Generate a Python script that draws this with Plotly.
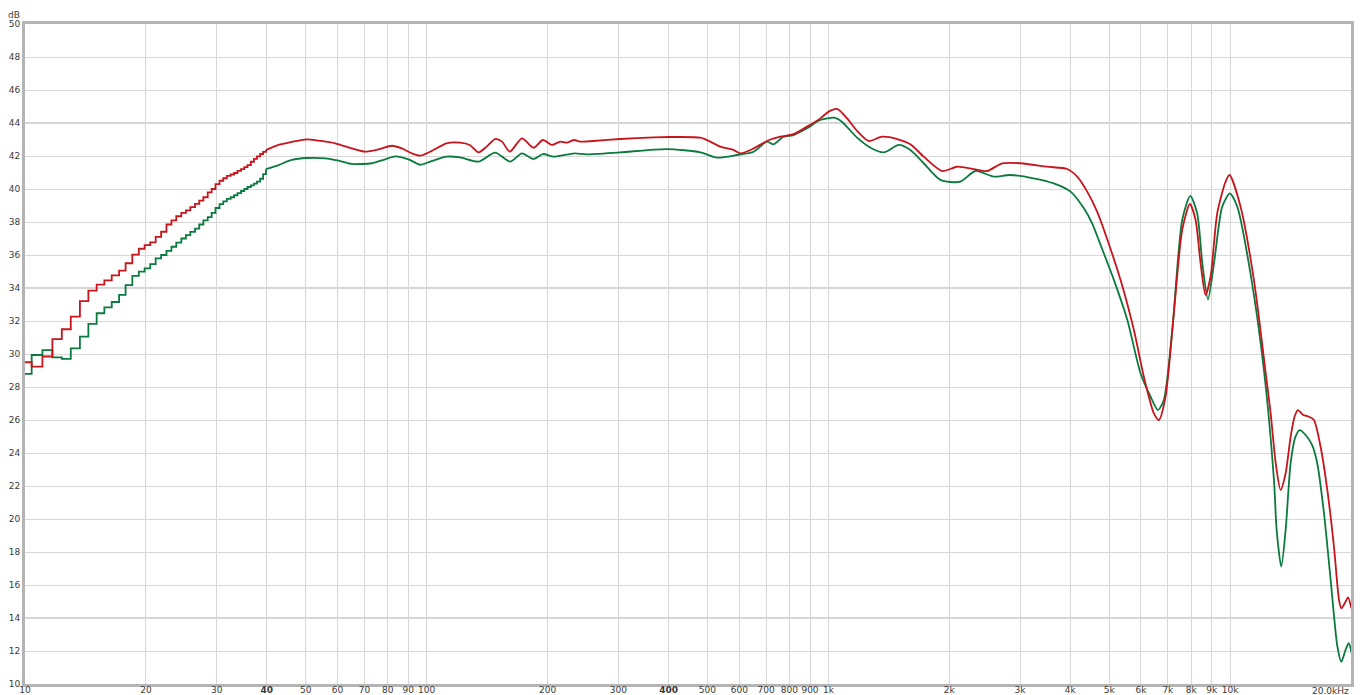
# =============================================================================
# IMPORTS
# =============================================================================

import numpy as np
import plotly.graph_objects as go


# =============================================================================
# DATOS
# =============================================================================

# Zona de graves: escalones de la resolución FFT (Hz)
FREQ_STEPS = [
    10.0, 10.39, 11.05, 11.7, 12.35, 13.0, 13.7, 14.38, 15.08, 15.76,
    16.44, 17.15, 17.8, 18.5, 19.2, 19.85, 20.5, 21.15, 21.82, 22.5,
    23.15, 23.8, 24.5, 25.15, 25.8, 26.5, 27.15, 27.8, 28.5, 29.15,
    29.8, 30.5, 31.15, 31.8, 32.5, 33.15, 33.8, 34.5, 35.15, 35.8,
    36.5, 37.15, 37.8, 38.5, 39.15, 39.8,
]

RED_STEPS = [
    29.5, 29.23, 29.85, 30.9, 31.5, 32.26, 33.2, 33.84, 34.2, 34.46,
    34.77, 35.05, 35.5, 36.02, 36.38, 36.6, 36.77, 37.1, 37.41, 37.85,
    38.1, 38.35, 38.55, 38.7, 38.9, 39.1, 39.3, 39.5, 39.8, 40.0,
    40.3, 40.5, 40.65, 40.8, 40.88, 40.97, 41.1, 41.2, 41.32, 41.45,
    41.65, 41.82, 41.98, 42.12, 42.25, 42.36,
]

GREEN_STEPS = [
    28.79, 29.94, 30.24, 29.8, 29.7, 30.34, 31.05, 31.82, 32.47, 32.83,
    33.15, 33.58, 34.18, 34.73, 34.99, 35.19, 35.45, 35.8, 36.0, 36.25,
    36.5, 36.75, 37.0, 37.2, 37.4, 37.6, 37.85, 38.1, 38.3, 38.55,
    38.85, 39.08, 39.25, 39.4, 39.5, 39.62, 39.75, 39.88, 40.0, 40.12,
    40.22, 40.33, 40.45, 40.62, 40.9, 41.2,
]

# Resto de la curva roja
FREQ_RED = [
    39.8, 42.76, 46.15, 50.3, 53.8, 59.2, 65.1, 70.3, 75.9, 81.9,
    86.7, 91.8, 96.3, 102, 112, 121, 128, 134.6, 141, 148,
    154, 161, 172.6, 184.5, 194.7, 205, 215, 223, 233, 241,
    260, 303, 367, 404, 480, 508, 538, 581, 604, 652,
    703, 759, 819, 885, 955, 1002, 1051, 1113, 1179, 1260,
    1360, 1483, 1600, 1727, 1920, 2092, 2301, 2484, 2707, 3007,
    3505, 3931, 4163, 4409, 4669, 4805, 5338, 5762, 6100, 6462,
    6649, 6907, 7244, 7600, 7943, 8206, 8445, 8690, 8942, 9290,
    9745, 9972, 10620, 11466, 12300, 12620, 12990, 13360, 13750, 14150,
    14470, 14750, 15210, 15710, 16170, 16800, 17460, 18140, 18670, 18920,
    19290, 19660, 20040,
]

DB_RED = [
    42.36, 42.67, 42.85, 43.01, 42.93, 42.77, 42.46, 42.26, 42.4, 42.62,
    42.46, 42.16, 42.02, 42.26, 42.77, 42.81, 42.67, 42.22, 42.57, 43.03,
    42.87, 42.26, 43.07, 42.5, 42.97, 42.67, 42.87, 42.81, 42.97, 42.87,
    42.91, 43.03, 43.13, 43.15, 43.11, 42.87, 42.57, 42.36, 42.16, 42.46,
    42.91, 43.17, 43.32, 43.78, 44.28, 44.69, 44.85, 44.28, 43.52, 42.91,
    43.17, 43.03, 42.71, 41.96, 41.09, 41.35, 41.21, 41.09, 41.56, 41.56,
    41.35, 41.21, 40.75, 39.84, 38.62, 37.82, 34.48, 31.45, 28.62, 26.4,
    26.0, 27.41, 32.47, 37.52, 39.09, 38.12, 35.5, 33.58, 34.68, 38.53,
    40.44, 40.85, 38.93, 34.48, 28.6, 26.4, 23.38, 21.76, 22.77, 24.99,
    26.2, 26.6, 26.3, 26.2, 26.0, 24.38, 21.76, 18.32, 15.09, 14.59,
    14.89, 15.25, 14.59,
]

# Resto de la curva verde
FREQ_GREEN = [
    39.8, 42.76, 46.15, 50.3, 55.9, 60.3, 65.1, 73.0, 78.8, 83.5,
    90.1, 96.3, 102, 112, 121, 134.6, 148, 161.4, 172.6, 184.5,
    194.7, 207, 233, 250, 303, 396, 480, 528, 592, 652,
    703, 730, 773, 819, 885, 955, 1034, 1080, 1179, 1273,
    1374, 1497, 1600, 1727, 1900, 2130, 2323, 2580, 2830, 3240,
    3640, 4008, 4325, 4535, 4760, 5140, 5550, 5985, 6340, 6610,
    6840, 7180, 7600, 7960, 8280, 8530, 8810, 9120, 9560, 9990,
    10420, 11240, 12140, 12860, 13060, 13410, 13750, 14150, 14550, 14910,
    15420, 16010, 16480, 17130, 17800, 18500, 18920, 19380, 19740, 20080,
]

DB_GREEN = [
    41.2, 41.45, 41.76, 41.88, 41.86, 41.72, 41.52, 41.56, 41.8, 41.98,
    41.8, 41.47, 41.66, 41.96, 41.92, 41.66, 42.2, 41.66, 42.16, 41.82,
    42.12, 41.96, 42.16, 42.1, 42.22, 42.42, 42.22, 41.9, 42.06, 42.26,
    42.87, 42.7, 43.17, 43.27, 43.68, 44.18, 44.32, 44.08, 43.11, 42.5,
    42.22, 42.67, 42.36, 41.56, 40.55, 40.44, 41.09, 40.75, 40.85, 40.65,
    40.34, 39.84, 38.83, 37.92, 36.61, 34.48, 32.06, 28.83, 27.41, 26.6,
    27.21, 31.45, 38.12, 39.58, 38.53, 35.5, 33.31, 35.5, 38.93, 39.74,
    38.93, 34.89, 29.03, 22.36, 19.33, 17.11, 19.33, 23.38, 24.99, 25.39,
    25.09, 24.48, 23.38, 20.35, 16.3, 12.26, 11.35, 12.06, 12.47, 11.86,
]

# Ejes
X_TICKS = [
    10, 20, 30, 40, 50, 60, 70, 80, 90,
    100, 200, 300, 400, 500, 600, 700, 800, 900,
    1000, 2000, 3000, 4000, 5000, 6000, 7000, 8000, 9000, 10000,
]
X_TICK_LABELS = [
    "10", "20", "30", "<b>40</b>", "50", "60", "70", "80", "90",
    "100", "200", "300", "<b>400</b>", "500", "600", "700", "800", "900",
    "1k", "2k", "3k", "4k", "5k", "6k", "7k", "8k", "9k", "10k",
]
Y_TICKS = list(range(10, 51, 2))

# Líneas de rejilla más marcadas
X_GRID_DARK = [50, 70, 100, 1000, 4000, 10000]
Y_GRID_DARK = [14, 34, 44]


# =============================================================================
# ESTILO
# =============================================================================

RED = "#c8141c"
GREEN = "#0b7a3e"
GRID = "#d8d8d8"
GRID_DARK = "#ababab"
FRAME = "#b4b4b4"
TEXT = "#3a3a3a"
FONT = "DejaVu Sans"

# La página deja 8 px de margen en el body: se descuenta aquí
PAGE_PAD = 8


# =============================================================================
# FIGURA
# =============================================================================

fig = go.Figure()

for f_steps, db_steps, f_smooth, db_smooth, color in [
    (FREQ_STEPS, GREEN_STEPS, FREQ_GREEN, DB_GREEN, GREEN),
    (FREQ_STEPS, RED_STEPS, FREQ_RED, DB_RED, RED),
]:
    fig.add_trace(
        go.Scatter(
            x=f_steps,
            y=db_steps,
            mode="lines",
            line=dict(color=color, width=1.8, shape="hv"),
            showlegend=False,
            hoverinfo="skip",
        )
    )
    fig.add_trace(
        go.Scatter(
            x=f_smooth,
            y=db_smooth,
            mode="lines",
            line=dict(color=color, width=1.8, shape="spline", smoothing=0.7),
            showlegend=False,
        )
    )

# Rejilla marcada (las formas en eje log usan log10)
shapes = []
for f in X_GRID_DARK:
    shapes.append(dict(
        type="line", xref="x", yref="paper",
        x0=np.log10(f), x1=np.log10(f), y0=0, y1=1,
        line=dict(color=GRID_DARK, width=1), layer="below",
    ))
for v in Y_GRID_DARK:
    shapes.append(dict(
        type="line", xref="paper", yref="y",
        x0=0, x1=1, y0=v, y1=v,
        line=dict(color=GRID_DARK, width=1), layer="below",
    ))


# =============================================================================
# LAYOUT
# =============================================================================

fig.update_layout(
    width=1364 - PAGE_PAD,
    height=695 - PAGE_PAD,
    margin=dict(l=25 - PAGE_PAD, r=13, t=24 - PAGE_PAD, b=11),
    paper_bgcolor="white",
    plot_bgcolor="white",
    font=dict(family=FONT, size=9, color=TEXT),
    shapes=shapes,
    showlegend=False,
    annotations=[
        dict(
            text="dB", xref="paper", yref="paper", x=0, y=1,
            xanchor="right", yanchor="bottom", xshift=-3, yshift=2,
            showarrow=False, font=dict(size=9, color=TEXT),
        ),
        dict(
            text="20.0kHz", xref="paper", yref="paper", x=1, y=0,
            xanchor="right", yanchor="top", yshift=0,
            showarrow=False, font=dict(size=9, color=TEXT),
        ),
    ],
)

fig.update_xaxes(
    type="log",
    range=[1, np.log10(20000)],
    tickvals=X_TICKS,
    ticktext=X_TICK_LABELS,
    showgrid=True,
    gridcolor=GRID,
    gridwidth=1,
    zeroline=False,
    showline=True,
    linecolor=FRAME,
    linewidth=3,
    mirror=True,
    ticks="",
    ticklabelstandoff=-5,
    automargin=False,
    tickfont=dict(size=9, color=TEXT),
)

fig.update_yaxes(
    range=[10, 50],
    tickvals=Y_TICKS,
    showgrid=True,
    gridcolor=GRID,
    gridwidth=1,
    zeroline=False,
    showline=True,
    linecolor=FRAME,
    linewidth=3,
    mirror=True,
    ticks="",
    automargin=False,
    tickfont=dict(size=9, color=TEXT),
)


# =============================================================================
# EXPORTACIÓN
# =============================================================================

fig.write_html("out.html")
